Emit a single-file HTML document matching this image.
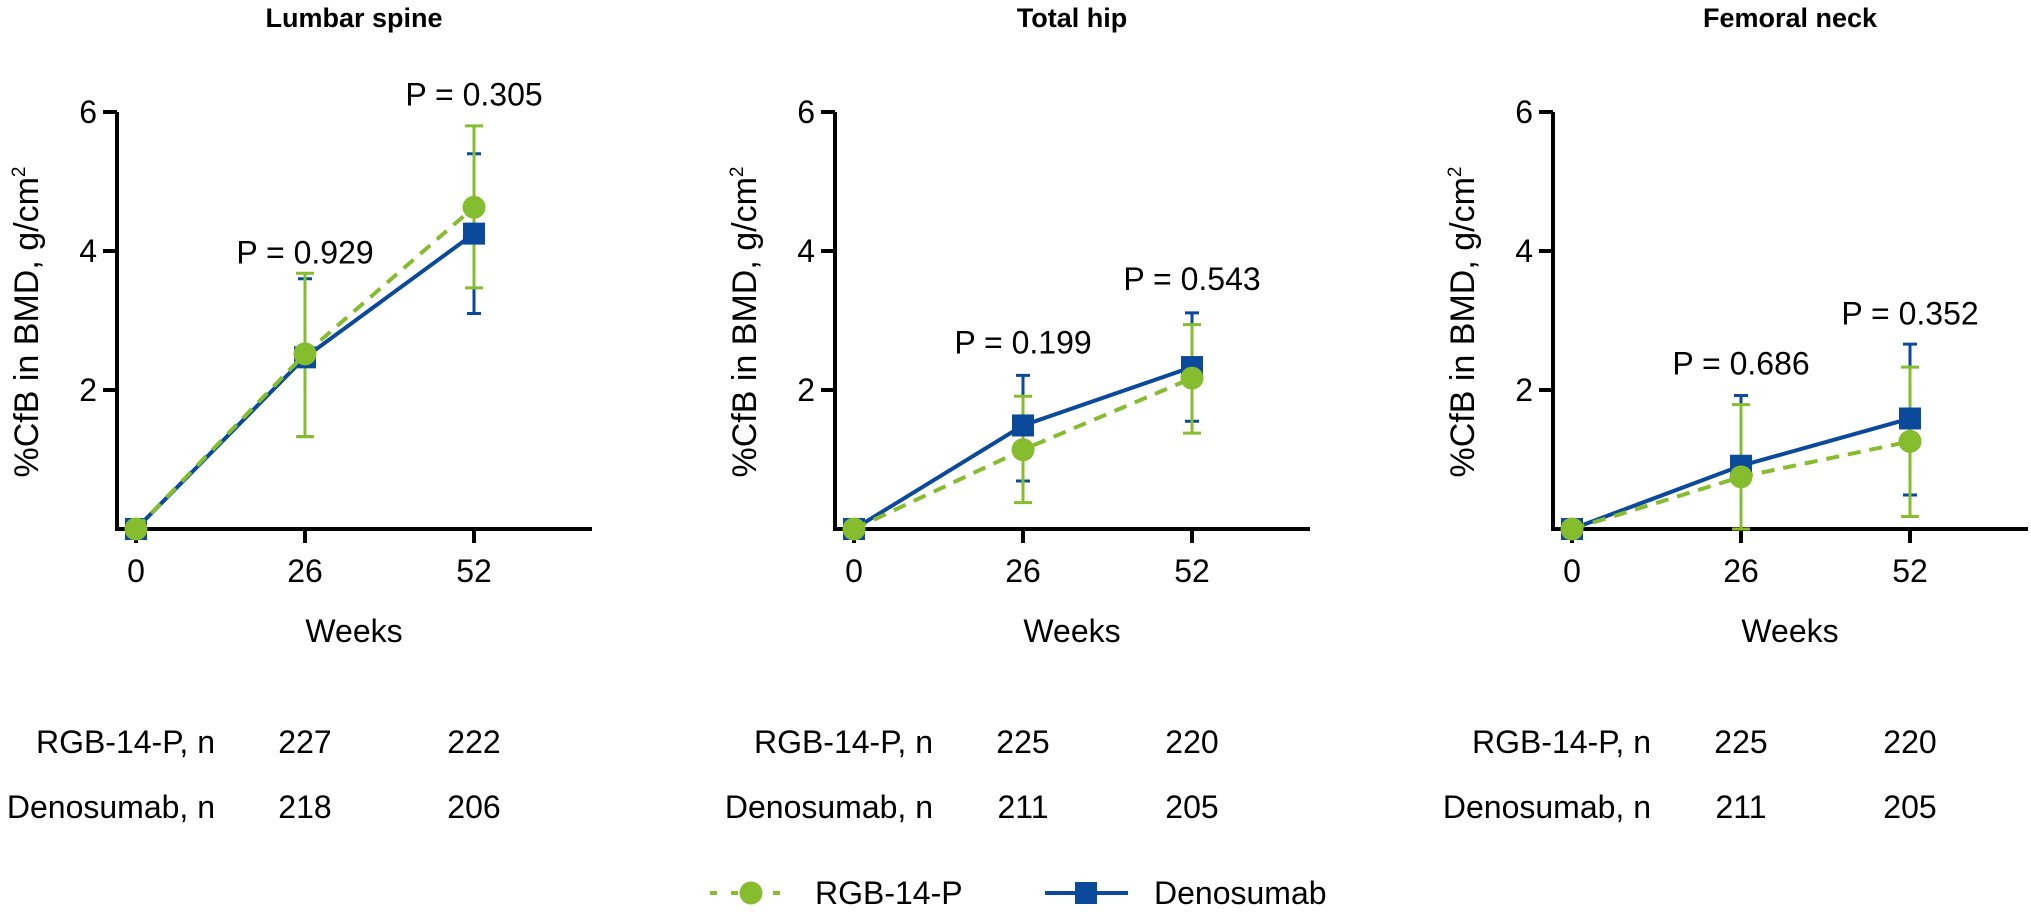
<!DOCTYPE html>
<html><head><meta charset="utf-8"><style>
html,body{margin:0;padding:0;background:#fff;}
svg{display:block;font-family:"Liberation Sans",Arial,sans-serif;}
</style></head><body>
<svg id="chart" width="2031" height="912" viewBox="0 0 2031 912"></svg>
<script>
const titles=["Lumbar spine","Total hip","Femoral neck"];
const weeks=[0,26,52];
const rgbVals=[[0,2.52,4.63],[0,1.14,2.17],[0,0.75,1.26]];
const rgbLo=[[0,1.33,3.47],[0,0.38,1.38],[0,0,0.18]];
const rgbHi=[[0,3.68,5.80],[0,1.91,2.94],[0,1.79,2.33]];
const denVals=[[0,2.47,4.25],[0,1.49,2.33],[0,0.91,1.59]];
const denLo=[[0,1.33,3.10],[0,0.69,1.55],[0,0,0.49]];
const denHi=[[0,3.60,5.40],[0,2.21,3.11],[0,1.92,2.66]];
const pLabels=[["P = 0.929","P = 0.305"],["P = 0.199","P = 0.543"],["P = 0.686","P = 0.352"]];
const pHeights=[[3.98,6.25],[2.68,3.6],[2.38,3.1]];
const nRgb=[[227,222],[225,220],[225,220]];
const nDen=[[218,206],[211,205],[211,205]];
const yTicks=[2,4,6];
const xTicks=[0,26,52];

const svg=document.getElementById('chart');
const NS='http://www.w3.org/2000/svg';
const GREEN='#86bd2f',BLUE='#0b4a9b';
const FS=32;
function mk(tag,attrs,parent,txt){const e=document.createElementNS(NS,tag);for(const k in attrs)e.setAttribute(k,attrs[k]);if(txt!==undefined)e.textContent=txt;(parent||svg).appendChild(e);return e;}

for(let p=0;p<3;p++){
  const off=p*718;
  const g=mk('g',{});
  
  
  const X=w=>off+136+w*(474-136)/52;
  const Y=v=>529-v*(529-112)/6;
  const axL=off+117;
  let t=mk('text',{x:off+354,y:27,'text-anchor':'middle','font-size':27,'font-weight':'bold'},g,titles[p]);
  
  
  let ax=mk('path',{d:`M${axL} ${Y(6)} V${Y(0)} H${off+592}`,stroke:'#000','stroke-width':4,fill:'none'},g);
  
  
  yTicks.forEach(v=>{
    mk('line',{x1:axL-14,x2:axL,y1:Y(v),y2:Y(v),stroke:'#000','stroke-width':4},g);
    let l=mk('text',{x:axL-20,y:Y(v)+11,'text-anchor':'end','font-size':FS},g,String(v));
    
    
  });
  xTicks.forEach(w=>{
    mk('line',{x1:X(w),x2:X(w),y1:Y(0),y2:Y(0)+14,stroke:'#000','stroke-width':4},g);
    let l=mk('text',{x:X(w),y:582,'text-anchor':'middle','font-size':FS},g,String(w));
    
    
  });
  let xt=mk('text',{x:off+354,y:642,'text-anchor':'middle','font-size':FS},g,'Weeks');
  
  
  let yt=mk('text',{x:0,y:0,'text-anchor':'middle','font-size':34,transform:`translate(${off+38},322) rotate(-90)`},g);
  
  
  yt.appendChild(document.createTextNode('%CfB in BMD, g/cm'));
  mk('tspan',{'font-size':19,dy:-13},yt,'2');
  const eb=(lo,hi,col,hw)=>{for(let i=1;i<3;i++){const x=X(weeks[i]);
    let e=mk('path',{d:`M${x} ${Y(lo[i])}V${Y(hi[i])}M${x-hw} ${Y(lo[i])}H${x+hw}M${x-hw} ${Y(hi[i])}H${x+hw}`,stroke:col,'stroke-width':3,fill:'none'},g);
    
    }};
  eb(denLo[p],denHi[p],BLUE,7);
  eb(rgbLo[p],rgbHi[p],GREEN,9);
  let dl=mk('polyline',{points:weeks.map((w,i)=>X(w)+','+Y(denVals[p][i])).join(' '),stroke:BLUE,'stroke-width':4,fill:'none'},g);
  
  
  weeks.forEach((w,i)=>{let s=mk('rect',{x:X(w)-11,y:Y(denVals[p][i])-11,width:22,height:22,fill:BLUE},g);
    
    });
  let rl=mk('polyline',{points:weeks.map((w,i)=>X(w)+','+Y(rgbVals[p][i])).join(' '),stroke:GREEN,'stroke-width':4,'stroke-dasharray':'13 9',fill:'none'},g);
  
  
  weeks.forEach((w,i)=>{let c=mk('circle',{cx:X(w),cy:Y(rgbVals[p][i]),r:11.5,fill:GREEN},g);
    
    });
  pLabels[p].forEach((s,i)=>{let l=mk('text',{x:X(weeks[i+1]),y:Y(pHeights[p][i])+11,'text-anchor':'middle','font-size':FS},g,s);
    
    });
  [['RGB-14-P, n',nRgb[p],753],['Denosumab, n',nDen[p],818]].forEach(r=>{
    let l=mk('text',{x:off+215,y:r[2],'text-anchor':'end','font-size':FS},g,r[0]);
    
    
    r[1].forEach((n,i)=>{let v=mk('text',{x:X(weeks[i+1]),y:r[2],'text-anchor':'middle','font-size':FS},g,String(n));
      
      });
  });
}
const lg=mk('g',{});


const ly=893;
let e1=mk('g',{},lg);


mk('line',{x1:710,x2:793,y1:ly,y2:ly,stroke:GREEN,'stroke-width':4,'stroke-dasharray':'7 14'},e1);
mk('circle',{cx:751,cy:ly,r:11.5,fill:GREEN},e1);
mk('text',{x:815,y:ly+11,'font-size':FS},e1,'RGB-14-P');
let e2=mk('g',{},lg);


mk('line',{x1:1045,x2:1128,y1:ly,y2:ly,stroke:BLUE,'stroke-width':4},e2);
mk('rect',{x:1075,y:ly-11,width:22,height:22,fill:BLUE},e2);
mk('text',{x:1154,y:ly+11,'font-size':FS},e2,'Denosumab');
</script>
</body></html>
